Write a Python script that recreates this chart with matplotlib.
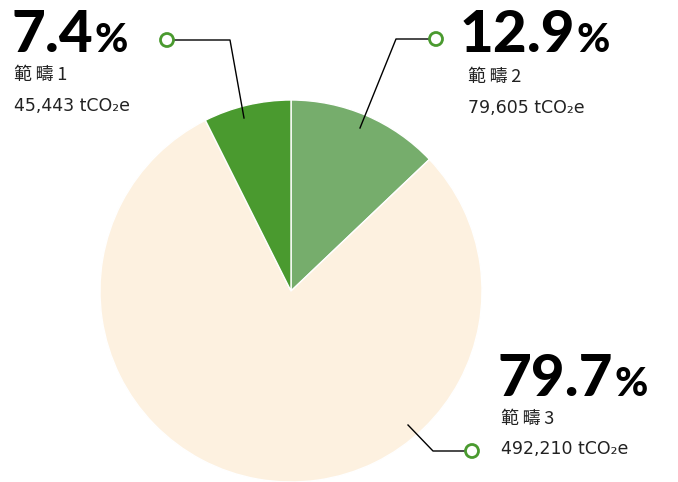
import matplotlib.pyplot as plt
from matplotlib.patches import Circle

# data
labels = ['範疇1', '範疇2', '範疇3']
shares = [7.4, 12.9, 79.7]
emissions = ['45,443', '79,605', '492,210']
colors = ['#4a9a2f', '#76ad6c', '#fdf1e0']

W, H = 678, 482
fig = plt.figure(figsize=(W / 100, H / 100), dpi=100)
ax = fig.add_axes([0, 0, 1, 1])

# pie: scope 2 first clockwise from 12 o'clock, then 3, then 1
# (y axis is inverted, so data-counterclockwise is screen-clockwise)
order = [1, 2, 0]
ax.pie([shares[i] for i in order], colors=[colors[i] for i in order],
       startangle=-90, counterclock=True, center=(291, 291), radius=191,
       wedgeprops=dict(edgecolor='white', linewidth=1), frame=True)
ax.set_xlim(0, W)
ax.set_ylim(H, 0)
ax.set_aspect('equal')
ax.axis('off')

big = dict(family=['Lato', 'DejaVu Sans'], weight='black', color='black')
cjk = dict(family=['Noto Sans CJK TC', 'DejaVu Sans'], color='#222222')
num = dict(family=['DejaVu Sans'], color='#222222')

# label blocks: (number x, baseline y, text x, label y, value y)
blocks = [(12, 52, 14, 75, 106),
          (460, 52, 468, 77, 108),
          (498, 396, 501, 419, 449)]
renderer = fig.canvas.get_renderer()
for i, (nx, by, tx, ly, vy) in enumerate(blocks):
    t = ax.text(nx, by, f'{shares[i]}', fontsize=42, va='baseline',
                ha='left', **big)
    x1 = t.get_window_extent(renderer).x1
    ax.text(x1 + 1, by, '%', fontsize=29, va='baseline', ha='left', **big)
    name = labels[i]
    ax.text(tx, ly, name[0] + '\u2009' + name[1] + '\u2009' + name[2],
            fontsize=13, va='center', ha='left', **cjk)
    ax.text(tx, vy, f'{emissions[i]} tCO₂e', fontsize=12.5, va='center',
            ha='left', **num)

# leader lines
leaders = [[(167, 40), (230, 40), (244, 118)],
           [(436, 39), (396, 39), (360, 128)],
           [(472, 451), (433, 451), (408, 425)]]
for pts in leaders:
    xs, ys = zip(*pts)
    ax.plot(xs, ys, color='black', lw=1, zorder=3)
    ax.add_patch(Circle(pts[0], 6.5, facecolor='white', edgecolor='#4a9a2f',
                        lw=2, zorder=4))

fig.savefig('out.png', dpi=100)
